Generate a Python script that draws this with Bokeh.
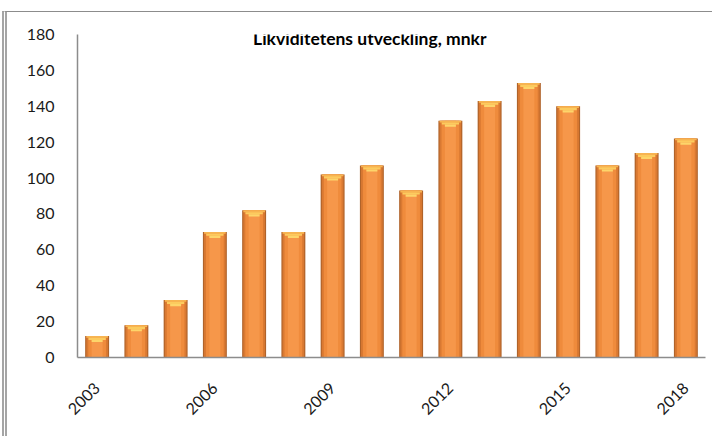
from bokeh.plotting import figure
from bokeh.models import FixedTicker, Label
from bokeh.embed import file_html
from bokeh.resources import INLINE

years = [2003, 2004, 2005, 2006, 2007, 2008, 2009, 2010,
         2011, 2012, 2013, 2014, 2015, 2016, 2017, 2018]
liquidity = [12, 18, 32, 70, 82, 70, 102, 107,
             93, 132, 143, 153, 140, 107, 114, 122]
x_ticks = [2003, 2006, 2009, 2012, 2015, 2018]
x_tick_labels = ["2003", "2006", "2009", "2012", "2015", "2018"]
y_ticks = [0, 20, 40, 60, 80, 100, 120, 140, 160, 180]
title_text = "Likviditetens utveckling,  mnkr"

p = figure(width=710, height=425, x_range=(2002.5, 2018.5), y_range=(0, 180),
           output_backend="svg", toolbar_location=None,
           min_border_left=70, min_border_right=12,
           min_border_top=22, min_border_bottom=80)
p.styles = {"margin-left": "2px", "margin-top": "11px",
            "border-left": "5px double #a5a5a5",
            "border-top": "1px solid #8c8c8c"}
p.outline_line_color = None
p.xgrid.grid_line_color = None
p.ygrid.grid_line_color = None

FONT = "Lato"

# bars with a bevelled look
p.vbar(x=years, top=liquidity, width=0.61, bottom=0, fill_color="#B0632A", line_color=None)
p.vbar(x=years, top=liquidity, width=0.55, bottom=0, fill_color="#D97932", line_color=None)
p.vbar(x=years, top=liquidity, width=0.45, bottom=0, fill_color="#EF8B3C", line_color=None)
p.vbar(x=years, top=liquidity, width=0.28, bottom=0, fill_color="#F6974A", line_color=None)
cap1 = [v - 1.0 for v in liquidity]
cap2 = [v - 2.2 for v in liquidity]
cap3 = [v - 3.4 for v in liquidity]
p.vbar(x=years, top=liquidity, bottom=cap1, width=0.55, fill_color="#F7B552", line_color=None)
p.vbar(x=years, top=cap1, bottom=cap2, width=0.44, fill_color="#FCCB5E", line_color=None)
p.vbar(x=years, top=cap2, bottom=cap3, width=0.28, fill_color="#FDD56A", line_color=None)

# axes
p.xaxis.ticker = FixedTicker(ticks=x_ticks)
p.xaxis.major_label_overrides = {t: l for t, l in zip(x_ticks, x_tick_labels)}
p.xaxis.major_label_orientation = 0.785398
p.xaxis.major_tick_line_color = None
p.xaxis.minor_tick_line_color = None
p.xaxis.axis_line_color = "#8c8c8c"
p.xaxis.axis_line_width = 1.5
p.xaxis.major_label_text_font = FONT
p.xaxis.major_label_text_font_size = "16px"
p.xaxis.major_label_text_color = "#1a1a1a"
p.xaxis.major_label_standoff = 22

p.yaxis.ticker = FixedTicker(ticks=y_ticks)
p.yaxis.major_tick_line_color = None
p.yaxis.minor_tick_line_color = None
p.yaxis.axis_line_color = "#8c8c8c"
p.yaxis.axis_line_width = 1.5
p.yaxis.major_label_text_font = FONT
p.yaxis.major_label_text_font_size = "16px"
p.yaxis.major_label_text_color = "#1a1a1a"
p.yaxis.major_label_standoff = 17

p.add_layout(Label(x=2010.0, y=177.5, text=title_text, text_font=FONT,
                   text_font_style="bold", text_font_size="17.5px",
                   text_align="center", text_baseline="middle", text_color="#000000"))

open("out.html", "w").write(file_html(p, INLINE))
